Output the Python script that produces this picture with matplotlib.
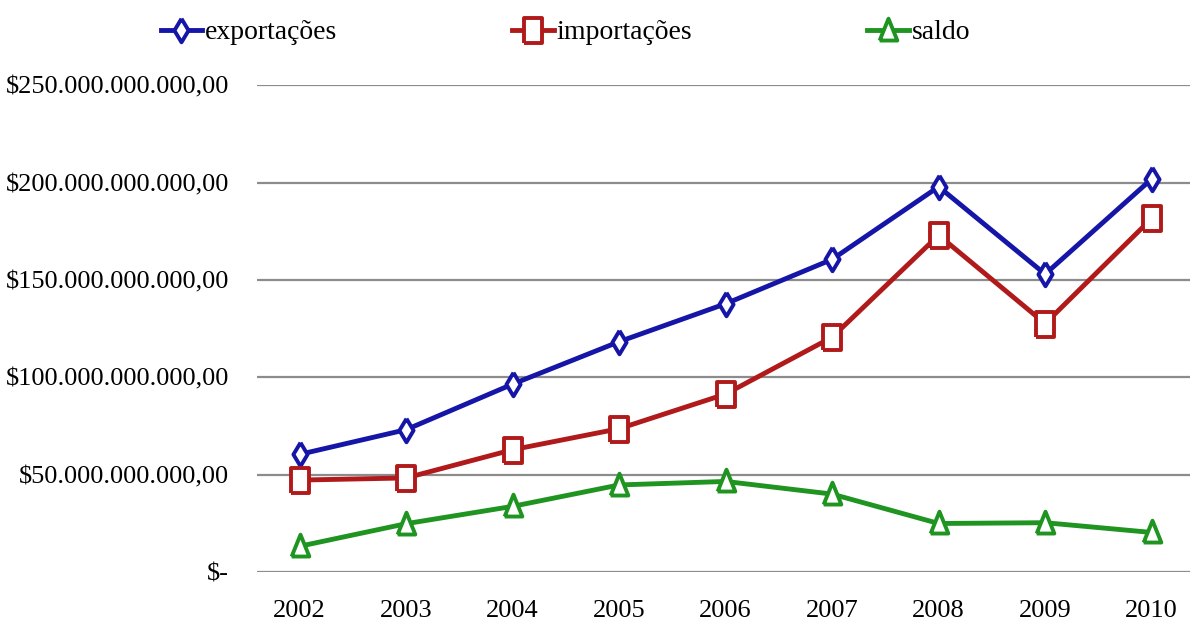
import numpy as np
import matplotlib.pyplot as plt
from matplotlib.ticker import FuncFormatter

# Trade balance, values in billions of dollars
anos = ['2002', '2003', '2004', '2005', '2006', '2007', '2008', '2009', '2010']
exportacoes = [60.4, 73.1, 96.5, 118.3, 137.8, 160.6, 197.9, 153.0, 201.9]
importacoes = [47.2, 48.3, 62.8, 73.6, 91.4, 120.6, 173.0, 127.6, 181.6]
saldo = [13.2, 24.8, 33.7, 44.7, 46.5, 40.0, 24.9, 25.3, 20.3]

plt.rcParams['font.family'] = ['Liberation Serif', 'DejaVu Serif']

def moeda(v, pos):
    if abs(v) < 1e-9:
        return '$-'
    s = '{:,}'.format(int(round(v * 1e9))).replace(',', '.')
    return '$' + s + ',00'

# tall, narrow marker shapes
losango = [(0, 1), (0.6, 0), (0, -1), (-0.6, 0), (0, 1)]
quadrado = [(-0.7, -1), (0.7, -1), (0.7, 1), (-0.7, 1), (-0.7, -1)]
triangulo = [(-0.75, -0.85), (0.75, -0.85), (0, 1), (-0.75, -0.85)]

fig = plt.figure(figsize=(11.9, 6.32), dpi=100)
ax = fig.add_axes([0.216, 0.095, 0.784, 0.77])

x = np.arange(len(anos))
series = [
    (exportacoes, 'exportações', '#1515a8', losango, 17),
    (importacoes, 'importações', '#b01a1a', quadrado, 18),
    (saldo, 'saldo', '#1f9420', triangulo, 17),
]
for vals, nome, cor, mk, ms in series:
    ax.plot(x, vals, color=cor, lw=3.5, marker=mk, ms=ms, mfc='white',
            mec=cor, mew=2.8, label=nome, clip_on=False, zorder=3)

ax.set_ylim(0, 250)
ax.set_yticks(np.arange(0, 251, 50))
ax.yaxis.set_major_formatter(FuncFormatter(moeda))
ax.set_xlim(-0.4, 8.36)
ax.set_xticks(x)
ax.set_xticklabels(anos)
ax.grid(axis='y', color='#8c8c8c', lw=1.6)
ax.set_axisbelow(True)
for sp in ax.spines.values():
    sp.set_visible(False)
ax.tick_params(axis='both', length=0, labelsize=19)
ax.tick_params(axis='y', pad=20)
ax.tick_params(axis='x', pad=20)

fig.legend(loc='upper left', bbox_to_anchor=(0.114, 1.008), ncol=3, frameon=False,
           fontsize=20, handlelength=1.5, handletextpad=0.1, columnspacing=6.3)

fig.savefig('out.png', dpi=100)
